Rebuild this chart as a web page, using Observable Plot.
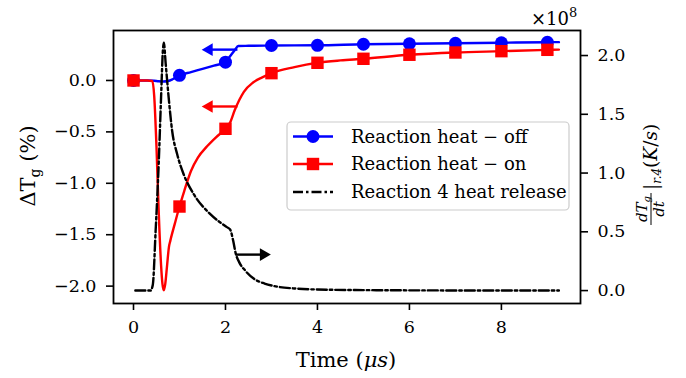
<!DOCTYPE html>
<html><head><meta charset="utf-8">
<script src="https://cdn.jsdelivr.net/npm/d3@7"></script>
<script src="https://cdn.jsdelivr.net/npm/@observablehq/plot@0.6"></script>
<style>
body{margin:0;background:#fff;}
#wrap{position:relative;width:686px;height:378px;}
</style></head><body><div id="wrap"></div>
<script>
// ---------------- data ----------------
const seriesNames = ["Reaction heat \u2212 off", "Reaction heat \u2212 on", "Reaction 4 heat release"];
const seriesColors = ["#0000ff", "#ff0000", "#000000"];

const markerTimes = [0, 1, 2, 3, 4, 5, 6, 7, 8, 9];
const offMarkerValues = [0.0, 0.05, 0.178, 0.34, 0.342, 0.352, 0.357, 0.362, 0.367, 0.372];
const onMarkerValues = [0.0, -1.226, -0.47, 0.071, 0.172, 0.211, 0.250, 0.272, 0.285, 0.298];

const offCurveT = [0, 0.3, 0.45, 0.55, 0.65, 0.75, 0.85, 1.0, 1.25, 1.5, 1.75, 2.0, 2.1, 2.2, 2.28, 2.5, 3, 4, 5, 6, 7, 8, 9, 9.25];
const offCurveV = [0, 0, -0.003, -0.008, -0.01, -0.005, 0.012, 0.05, 0.082, 0.113, 0.145, 0.178, 0.235, 0.295, 0.335, 0.337, 0.34, 0.342, 0.352, 0.357, 0.362, 0.367, 0.372, 0.373];

const onCurveT = [0, 0.3, 0.41, 0.45, 0.5, 0.55, 0.6, 0.63, 0.66, 0.69, 0.73, 0.77, 0.8, 0.9, 1.0, 1.1, 1.25, 1.4, 1.6, 1.8, 2.0, 2.1, 2.2, 2.3, 2.4, 2.6, 2.8, 3.0, 3.5, 4, 4.5, 5, 6, 7, 8, 9, 9.25];
const onCurveV = [0, 0, -0.005, -0.15, -0.65, -1.3, -1.8, -1.98, -2.04, -1.98, -1.8, -1.62, -1.56, -1.39, -1.226, -1.08, -0.88, -0.75, -0.64, -0.55, -0.47, -0.41, -0.29, -0.19, -0.11, -0.02, 0.03, 0.071, 0.13, 0.172, 0.195, 0.211, 0.250, 0.272, 0.285, 0.298, 0.300];

// reaction 4 heat release, in units of 1e8 K/s (right axis)
const heatT = [0.04, 0.37, 0.42, 0.48, 0.55, 0.6, 0.64, 0.66, 0.7, 0.77, 0.84, 0.95, 1.09, 1.31, 1.67, 2.03, 2.1, 2.17, 2.22, 2.3, 2.43, 2.62, 2.85, 3.12, 3.5, 4.0, 5, 6, 7, 8, 9.25];
const heatV = [0, 0, 0.05, 0.5, 1.1, 1.65, 2.05, 2.11, 1.93, 1.62, 1.36, 1.16, 0.99, 0.82, 0.65, 0.54, 0.52, 0.42, 0.32, 0.24, 0.17, 0.10, 0.06, 0.034, 0.018, 0.009, 0.004, 0.002, 0.001, 0.0, 0.0];

const xTicks = [0, 2, 4, 6, 8];
const leftTicks = [0, -0.5, -1.0, -1.5, -2.0];
const rightTicks = [0, 0.5, 1.0, 1.5, 2.0];

// annotation arrows: tail x, tip x, y value, which axis
const arrowTail = [2.26, 2.26, 2.22];
const arrowTip = [1.49, 1.49, 2.98];
const arrowY = [0.30, -0.253, 0.306];
const arrowAxis = ["left", "left", "right"];

// ---------------- build ----------------
const xDomain = [-0.435, 9.72];
const yLeftDomain = [-2.169, 0.486];
const yRightDomain = [-0.11, 2.213];
const r2l = d3.scaleLinear().domain(yRightDomain).range(yLeftDomain);

const offCurve = offCurveT.map((t, i) => ({t, v: offCurveV[i]}));
const onCurve = onCurveT.map((t, i) => ({t, v: onCurveV[i]}));
const heatCurve = heatT.map((t, i) => ({t, v: r2l(heatV[i])}));
const offMarkers = markerTimes.map((t, i) => ({t, v: offMarkerValues[i]}));
const onMarkers = markerTimes.map((t, i) => ({t, v: onMarkerValues[i]}));
const arrows = arrowTail.map((x1, i) => ({
  x1, x2: arrowTip[i],
  y: arrowAxis[i] === "right" ? r2l(arrowY[i]) : arrowY[i],
  color: seriesColors[i],
  dir: arrowTip[i] < x1 ? "left" : "right"
}));

const fmt = d => { const v = Math.round(d * 10) / 10; return (v < 0 ? "\u2212" : "") + Math.abs(v).toFixed(1); };
const FONT = "DejaVu Serif";

const chart = Plot.plot({
  width: 686, height: 378,
  marginLeft: 113, marginRight: 106, marginTop: 30, marginBottom: 75,
  style: {fontFamily: FONT, fontSize: "17.5px", color: "black", background: "white"},
  x: {domain: xDomain},
  y: {domain: yLeftDomain},
  marks: [
    Plot.line(offCurve, {x: "t", y: "v", stroke: seriesColors[0], strokeWidth: 2.4, curve: "monotone-x"}),
    Plot.dot(offMarkers, {x: "t", y: "v", r: 6.5, fill: seriesColors[0], symbol: "circle"}),
    Plot.line(onCurve, {x: "t", y: "v", stroke: seriesColors[1], strokeWidth: 2.4, curve: "monotone-x"}),
    Plot.dot(onMarkers, {x: "t", y: "v", r: 7, fill: seriesColors[1], symbol: "square"}),
    Plot.line(heatCurve, {x: "t", y: "v", stroke: seriesColors[2], strokeWidth: 2.4, strokeDasharray: "10,3,2.5,3", curve: "monotone-x"}),
    Plot.link(arrows, {x1: "x1", x2: d => d.x2 + (d.dir === "left" ? 0.15 : -0.15), y1: "y", y2: "y", stroke: "color", strokeWidth: 2.4}),
    Plot.dot(arrows.filter(d => d.dir === "left"), {x: "x2", y: "y", symbol: "triangle", r: 4.7, fill: "color", rotate: -90, dx: 7}),
    Plot.dot(arrows.filter(d => d.dir === "right"), {x: "x2", y: "y", symbol: "triangle", r: 4.7, fill: "color", rotate: 90, dx: -7}),
    Plot.frame({stroke: "black", strokeWidth: 1.8}),
    Plot.axisX({ticks: xTicks, tickSize: 7, tickPadding: 10, tickFormat: d => String(d), label: null, strokeWidth: 1.6}),
    Plot.axisY({ticks: leftTicks, anchor: "left", tickSize: 7, tickPadding: 10, tickFormat: fmt, label: null, strokeWidth: 1.6}),
    Plot.axisY({ticks: rightTicks.map(r2l), anchor: "right", tickSize: 7, tickPadding: 10, tickFormat: d => fmt(r2l.invert(d)), label: null, strokeWidth: 1.6})
  ]
});
document.getElementById("wrap").appendChild(chart);

const svg = d3.select(chart);
const NS = FONT;

// x label
const xl = svg.append("text").attr("x", 346).attr("y", 367).attr("text-anchor", "middle")
  .attr("font-family", NS).attr("font-size", 21).attr("fill", "black");
xl.append("tspan").text("Time (");
xl.append("tspan").attr("font-style", "italic").text("\u03bcs");
xl.append("tspan").text(")");

// left y label
const yl = svg.append("text").attr("transform", "translate(35,166) rotate(-90)").attr("text-anchor", "middle")
  .attr("font-family", NS).attr("font-size", 21).attr("fill", "black");
yl.append("tspan").text("\u0394T");
yl.append("tspan").attr("font-size", 14).attr("dy", 5).text("g");
yl.append("tspan").attr("dy", -5).text(" (%)");

// x10^8
const ex = svg.append("text").attr("x", 531).attr("y", 25).attr("text-anchor", "start")
  .attr("font-family", NS).attr("font-size", 18).attr("fill", "black");
ex.append("tspan").text("\u00d710");
ex.append("tspan").attr("font-size", 13).attr("dy", -8).text("8");

// right y label
const rg = svg.append("g").attr("transform", "translate(651,163) rotate(-90)").attr("font-family", NS).attr("fill", "black");
const num = rg.append("text").attr("x", -46).attr("y", -4).attr("text-anchor", "middle").attr("font-size", 15).attr("font-style", "italic");
num.append("tspan").text("dT");
num.append("tspan").attr("font-size", 10).attr("dy", 3).text("g");
rg.append("line").attr("x1", -62).attr("x2", -30).attr("y1", 0).attr("y2", 0).attr("stroke", "black").attr("stroke-width", 1);
rg.append("text").attr("x", -46).attr("y", 13).attr("text-anchor", "middle").attr("font-size", 15).attr("font-style", "italic").text("dt");
const rest = rg.append("text").attr("x", -27).attr("y", 6).attr("text-anchor", "start").attr("font-size", 18.5);
rest.append("tspan").text("|");
rest.append("tspan").attr("font-size", 12).attr("font-style", "italic").attr("dy", 4).text("r.4");
rest.append("tspan").attr("dy", -4).text("(");
rest.append("tspan").attr("font-style", "italic").text("K");
rest.append("tspan").text("/");
rest.append("tspan").attr("font-style", "italic").text("s");
rest.append("tspan").text(")");

// legend
const lg = svg.append("g");
lg.append("rect").attr("x", 287).attr("y", 122).attr("width", 282).attr("height", 88).attr("rx", 4)
  .attr("fill", "white").attr("fill-opacity", 0.85).attr("stroke", "#cccccc").attr("stroke-width", 1.2);
const rowY = [136.5, 164, 192];
seriesNames.forEach((name, i) => {
  const y = rowY[i];
  const ln = lg.append("line").attr("x1", 293).attr("x2", 333).attr("y1", y).attr("y2", y)
    .attr("stroke", seriesColors[i]).attr("stroke-width", 2.4);
  if (i === 2) ln.attr("stroke-dasharray", "10,3,2.5,3");
  if (i === 0) lg.append("circle").attr("cx", 313).attr("cy", y).attr("r", 6.5).attr("fill", seriesColors[i]);
  if (i === 1) lg.append("rect").attr("x", 313 - 6.2).attr("y", y - 6.2).attr("width", 12.4).attr("height", 12.4).attr("fill", seriesColors[i]);
  lg.append("text").attr("x", 351).attr("y", y).attr("dy", "0.35em").attr("text-anchor", "start")
    .attr("font-family", NS).attr("font-size", 18).attr("fill", "black").text(name);
});
</script>
</body></html>
